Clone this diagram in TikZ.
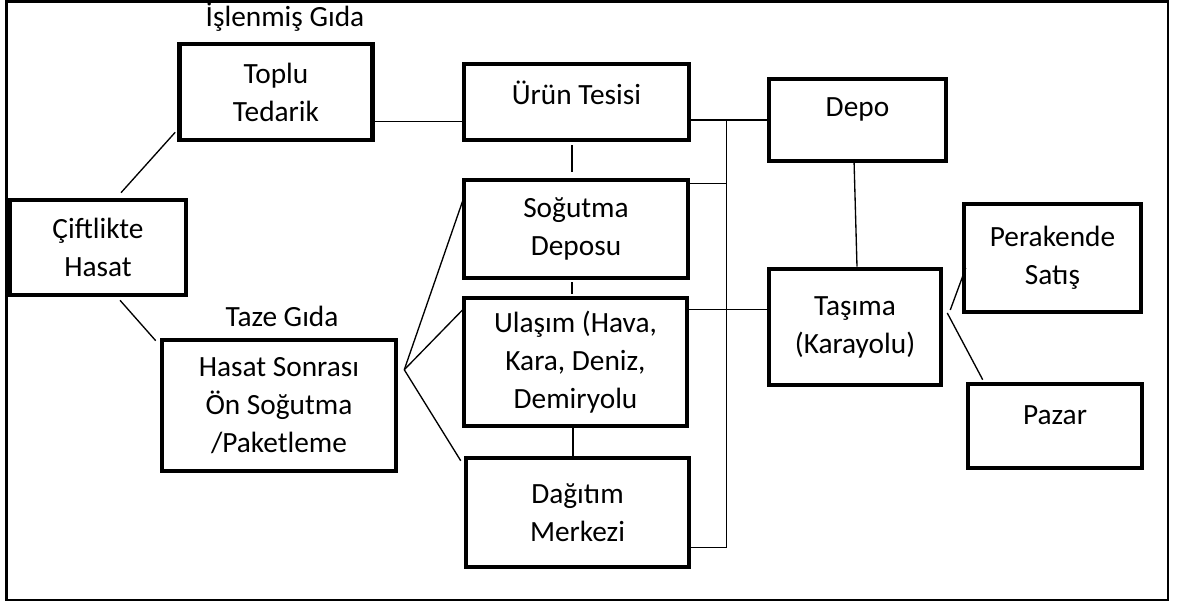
\documentclass[tikz,border=0pt]{standalone}
\usepackage{fontspec}
\setmainfont{Carlito}
\usetikzlibrary{calc}
\begin{document}
\begin{tikzpicture}[x=0.75pt,y=-0.75pt,
  box/.style={draw, line width=3.4pt, rectangle, align=center, inner sep=0pt,
    font=\fontsize{22}{28.5}\selectfont},
  sz/.style 2 args={minimum width=#1*0.75pt, minimum height=#2*0.75pt},
  caption/.style={font=\fontsize{22}{28.5}\selectfont, anchor=base, inner sep=0pt},
  link/.style={line width=1pt}]
\useasboundingbox (0,0) rectangle (1182,605);
% frame
\draw[line width=1.6pt] (6.5,1.5) rectangle (1168,600);

% boxes
\node[box, sz={176}{95}] (cift) at (98,247.5) {Çiftlikte\\Hasat};
\node[box, sz={193}{96}] (toplu) at (276,92) {Toplu\\Tedarik};
\node[box, sz={234}{131}] (hs) at (279,405.5) {Hasat Sonrası\\Ön Soğutma\\/Paketleme};
\node[box, text depth=14pt, sz={225}{76}] (urun) at (576.5,102) {Ürün Tesisi};
\node[box, sz={224}{98}] (sog) at (576,229) {Soğutma\\Deposu};
\node[box, sz={223}{128}] (ula) at (575.5,362) {Ulaşım (Hava,\\Kara, Deniz,\\Demiryolu};
\node[box, sz={223}{109}] (dag) at (577.5,512.5) {Dağıtım\\Merkezi};
\node[box, text depth=19pt, sz={177}{82}] (depo) at (857.5,120) {Depo};
\node[box, sz={172}{116}] (tas) at (855,327) {Taşıma\\(Karayolu)};
\node[box, sz={177}{108}] (per) at (1052.5,258) {Perakende\\Satış};
\node[box, text depth=16pt, sz={174}{84}] (paz) at (1055,426) {Pazar};

% captions
\node[caption] (islenmis) at (285,27) {İşlenmiş Gıda};
\node[caption] (taze) at (282,327) {Taze Gıda};

% junction points
\coordinate (bustop) at ($(urun.east |- depo.west)+(35,0)$);
\coordinate (busbot) at ($(dag.south east)+(35,-22)$);
\coordinate (fan) at ($(hs.north east)+(6,32)$);

% farm branches
\draw[link] ($(cift.north)+(23,-5)$) -- ($(toplu.south west)+(-2,-10)$);
\draw[link] ($(cift.south)+(22,3)$) -- ($(hs.north west)+(-4,3)$);

% processed food path
\draw[link] ($(toplu.south east)+(0,-21)$) -- ($(urun.south west)+(0,-21)$);
\draw[link] (urun.east |- depo.west) -- (depo.west);
\draw[link] (bustop) -- (busbot) -- ($(dag.south east)+(0,-22)$);
\draw[link] ($(sog.north east)+(0,6)$) -- (bustop |- {$(sog.north east)+(0,6)$});
\draw[link] ($(ula.north east)+(0,14)$) -- (tas.west |- {$(ula.north east)+(0,14)$});

% vertical stubs in the middle column
\draw[link] ($(urun.south)+(-4.5,3)$) -- ++(0,27);
\draw[link] ($(sog.south)+(-4,2)$) -- ++(0,12);
\draw[link] ($(ula.south)+(-2.5,-3)$) -- ($(dag.north)+(-4.5,0)$);

% fresh food fan
\draw[link] (fan) -- ($(sog.north west)+(1,23)$);
\draw[link] (fan) -- ($(ula.north west)+(1,14)$);
\draw[link] (fan) -- ($(dag.north west)+(-3,5)$);

% distribution to retail
\draw[link] ($(depo.south)+(-3.5,-4)$) -- ($(tas.north)+(2,0)$);
\draw[link] ($(tas.east)+(7,-17)$) -- ($(per.west)+(4,10)$);
\draw[link] ($(tas.east)+(4,-14)$) -- ($(paz.north west)+(17,-2)$);
\end{tikzpicture}
\end{document}
